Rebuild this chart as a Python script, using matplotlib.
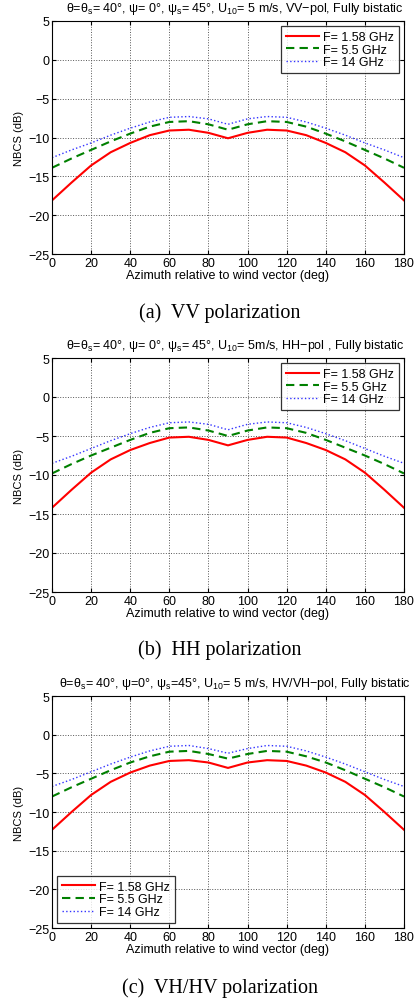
import numpy as np
import matplotlib
matplotlib.use('Agg')
import matplotlib.pyplot as plt

plt.rcParams['font.family'] = ['Liberation Sans', 'DejaVu Sans']
plt.rcParams['mathtext.fontset'] = 'custom'
plt.rcParams['mathtext.rm'] = 'Liberation Sans'
plt.rcParams['mathtext.it'] = 'Liberation Sans'

azimuth = [0, 10, 20, 30, 40, 50, 60, 70, 80, 90, 100, 110, 120, 130, 140, 150, 160, 170, 180]

# VV polarization
vv_158 = [-18.1, -15.8, -13.6, -11.9, -10.7, -9.7, -9.1, -9.0, -9.4, -10.1,
          -9.4, -9.0, -9.1, -9.7, -10.7, -11.9, -13.6, -15.8, -18.1]
vv_55 = [-13.9, -12.7, -11.6, -10.5, -9.5, -8.6, -8.0, -7.9, -8.3, -9.0,
         -8.3, -7.9, -8.0, -8.6, -9.5, -10.5, -11.6, -12.7, -13.9]
vv_14 = [-12.6, -11.6, -10.7, -9.7, -8.8, -8.0, -7.4, -7.3, -7.6, -8.3,
         -7.6, -7.3, -7.4, -8.0, -8.8, -9.7, -10.7, -11.6, -12.6]

# HH polarization
hh_158 = [-14.2, -11.9, -9.7, -8.0, -6.8, -5.9, -5.2, -5.1, -5.5, -6.2,
          -5.5, -5.1, -5.2, -5.9, -6.8, -8.0, -9.7, -11.9, -14.2]
hh_55 = [-9.8, -8.6, -7.5, -6.5, -5.5, -4.6, -4.0, -3.9, -4.3, -5.0,
         -4.3, -3.9, -4.0, -4.6, -5.5, -6.5, -7.5, -8.6, -9.8]
hh_14 = [-8.5, -7.6, -6.6, -5.6, -4.7, -3.9, -3.3, -3.2, -3.5, -4.2,
         -3.5, -3.2, -3.3, -3.9, -4.7, -5.6, -6.6, -7.6, -8.5]

# VH/HV polarization
vh_158 = [-12.3, -10.0, -7.8, -6.1, -4.9, -4.0, -3.4, -3.3, -3.6, -4.3,
          -3.6, -3.3, -3.4, -4.0, -4.9, -6.1, -7.8, -10.0, -12.3]
vh_55 = [-8.0, -6.8, -5.7, -4.6, -3.6, -2.8, -2.2, -2.1, -2.5, -3.1,
         -2.5, -2.1, -2.2, -2.8, -3.6, -4.6, -5.7, -6.8, -8.0]
vh_14 = [-6.7, -5.8, -4.8, -3.8, -2.9, -2.1, -1.5, -1.4, -1.8, -2.4,
         -1.8, -1.4, -1.5, -2.1, -2.9, -3.8, -4.8, -5.8, -6.7]

labels = ['F= 1.58 GHz', 'F= 5.5 GHz', 'F= 14 GHz']

titles = [
    r'θ=θ$_\mathregular{s}$= 40°, ψ= 0°, ψ$_\mathregular{s}$= 45°, U$_\mathregular{10}$= 5 m/s, VV−pol, Fully bistatic',
    r'θ=θ$_\mathregular{s}$= 40°, ψ= 0°, ψ$_\mathregular{s}$= 45°, U$_\mathregular{10}$= 5m/s, HH−pol , Fully bistatic',
    r'θ=θ$_\mathregular{s}$= 40°, ψ=0°, ψ$_\mathregular{s}$=45°, U$_\mathregular{10}$= 5 m/s, HV/VH−pol, Fully bistatic',
]
captions = ['(a)  VV polarization', '(b)  HH polarization', '(c)  VH/HV polarization']

W, H = 417, 1003
fig = plt.figure(figsize=(W / 100, H / 100), dpi=100)

# pixel boxes: (top, bottom) of each axes
boxes = [(22, 255), (359, 593), (697, 929)]
caption_y = [313, 650, 988]
series = [(vv_158, vv_55, vv_14), (hh_158, hh_55, hh_14), (vh_158, vh_55, vh_14)]
legend_loc = ['upper right', 'upper right', 'lower left']

for i in range(3):
    top, bot = boxes[i]
    ax = fig.add_axes([52 / W, 1 - bot / H, (404 - 52) / W, (bot - top) / H])
    s158, s55, s14 = series[i]
    ax.plot(azimuth, s158, '-', color='#ff0000', lw=1.5, label=labels[0])
    ax.plot(azimuth, s55, '--', color='#008000', lw=1.5, dashes=(4, 2.5), label=labels[1])
    ax.plot(azimuth, s14, ':', color='#3333ff', lw=1.0, label=labels[2])
    ax.set_xlim(0, 180)
    ax.set_ylim(-25, 5)
    ax.set_xticks(np.arange(0, 181, 20))
    ax.set_yticks(np.arange(-25, 6, 5))
    ax.grid(True, linestyle=':', color='#555555', linewidth=0.7)
    ax.tick_params(direction='in', labelsize=9, length=3, pad=2, top=True, right=True)
    ax.set_xlabel('Azimuth relative to wind vector (deg)', fontsize=9, labelpad=0)
    ax.set_ylabel('NBCS (dB)', fontsize=8, labelpad=3)
    ax.set_title(titles[i], fontsize=9, pad=7, loc='center')
    ax.title.set_x(0.52)
    for sp in ax.spines.values():
        sp.set_linewidth(0.8)
    leg = ax.legend(loc=legend_loc[i], fontsize=9, frameon=True, fancybox=False,
                    edgecolor='black', handlelength=2.6, handletextpad=0.35,
                    borderpad=0.4, labelspacing=0.05, borderaxespad=0.4)
    leg.get_frame().set_linewidth(0.9)
    fig.text(220 / W, 1 - caption_y[i] / H, captions[i], ha='center', va='center',
             fontsize=14.5, family='Liberation Serif')

fig.savefig('out.png', dpi=100)
